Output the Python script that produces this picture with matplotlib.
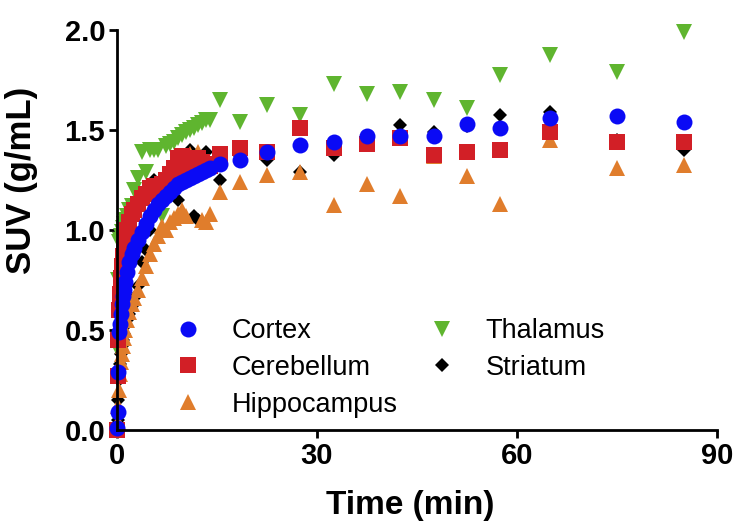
import matplotlib
matplotlib.use("Agg")
import matplotlib.pyplot as plt

plt.rcParams['font.family'] = ['Liberation Sans', 'DejaVu Sans']

# Frame mid-times (min)
time_min = [0.0, 0.1, 0.2, 0.3, 0.4, 0.55, 0.7, 0.85, 1.0, 1.25, 1.5, 1.8, 2.2, 2.6,
            3.2, 3.8, 4.4, 5.0, 5.6, 6.2, 6.8, 7.4, 8.0, 8.6, 9.2, 9.8, 10.4, 11.0,
            11.6, 12.2, 12.8, 13.4, 14.0,
            15.4, 18.4, 22.5, 27.5, 32.5, 37.5, 42.5, 47.5, 52.5, 57.5, 65, 75, 85]

cortex = [0.01, 0.09, 0.29, 0.49, 0.53, 0.58, 0.63, 0.67, 0.70, 0.74, 0.79, 0.84, 0.88, 0.91,
          0.95, 0.99, 1.03, 1.07, 1.10, 1.13, 1.15, 1.17, 1.19, 1.21, 1.23, 1.24, 1.25, 1.26,
          1.27, 1.28, 1.29, 1.30, 1.31,
          1.33, 1.35, 1.39, 1.425, 1.44, 1.47, 1.47, 1.47, 1.53, 1.51, 1.56, 1.57, 1.54]

cerebellum = [0.0, 0.27, 0.45, 0.60, 0.68, 0.76, 0.82, 0.87, 0.91, 0.96, 1.00, 1.04, 1.08, 1.10,
              1.13, 1.16, 1.18, 1.21, 1.22, 1.20, 1.23, 1.25, 1.28, 1.31, 1.36, 1.37, 1.33, 1.30,
              1.35, 1.36, 1.34, 1.33, 1.32,
              1.38, 1.41, 1.39, 1.51, 1.41, 1.43, 1.46, 1.375, 1.39, 1.40, 1.49, 1.44, 1.44]

hippocampus = [0.0, 0.04, 0.12, 0.20, 0.28, 0.34, 0.38, 0.42, 0.46, 0.50, 0.55, 0.59, 0.63, 0.66,
               0.70, 0.76, 0.82, 0.88, 0.93, 0.97, 1.02, 1.00, 1.04, 1.06, 1.08, 1.10, 1.07, 1.38,
               1.36, 1.39, 1.05, 1.04, 1.08,
               1.19, 1.24, 1.275, 1.29, 1.125, 1.23, 1.17, 1.37, 1.27, 1.13, 1.45, 1.31, 1.325]

thalamus = [0.0, 0.40, 0.75, 0.94, 0.95, 0.97, 0.99, 1.01, 1.03, 1.05, 1.07, 1.10, 1.12, 1.20,
            1.26, 1.39, 1.29, 1.40, 1.40, 1.40, 1.07, 1.42, 1.43, 1.44, 1.46, 1.475, 1.49, 1.50,
            1.51, 1.525, 1.535, 1.55, 1.55,
            1.65, 1.54, 1.625, 1.575, 1.73, 1.68, 1.69, 1.65, 1.61, 1.775, 1.875, 1.79, 1.99]

striatum = [0.0, 0.05, 0.15, 0.25, 0.33, 0.38, 0.42, 0.45, 0.48, 0.52, 0.55, 0.58, 0.62, 0.66,
            0.72, 0.84, 0.90, 1.00, 1.25, 1.15, 1.20, 1.26, 1.24, 1.20, 1.15, 1.30, 1.37, 1.40,
            1.07, 1.05, 1.35, 1.39, 1.30,
            1.25, 1.37, 1.35, 1.29, 1.375, 1.46, 1.525, 1.49, 1.52, 1.575, 1.59, 1.45, 1.40]

labels = ['Cortex', 'Cerebellum', 'Hippocampus', 'Thalamus', 'Striatum']
x_ticks = [0, 30, 60, 90]
y_ticks = [0.0, 0.5, 1.0, 1.5, 2.0]

C_BLUE = '#0a0af5'
C_RED = '#d21f26'
C_ORANGE = '#e07d2c'
C_GREEN = '#5fb52f'
C_BLACK = '#000000'

W, H = 736, 525
fig = plt.figure(figsize=(W / 100, H / 100), dpi=100)
ax = fig.add_axes([117 / W, (H - 430) / H, 600 / W, 400 / H])

style = dict(linestyle='none', markeredgewidth=0, clip_on=False)
series = {
    'Thalamus': (thalamus, 'v', 11.5, C_GREEN),
    'Striatum': (striatum, 'D', 6.8, C_BLACK),
    'Hippocampus': (hippocampus, '^', 11.5, C_ORANGE),
    'Cerebellum': (cerebellum, 's', 11.5, C_RED),
    'Cortex': (cortex, 'o', 11.5, C_BLUE),
}
handles = {}
for name, (vals, mk, ms, col) in series.items():
    h, = ax.plot(time_min, vals, marker=mk, markersize=ms, color=col, **style)
    handles[name] = h

ax.set_xlim(0, 90)
ax.set_ylim(0, 2.0)
ax.set_xticks(x_ticks)
ax.set_xticklabels([str(v) for v in x_ticks])
ax.set_yticks(y_ticks)
ax.set_yticklabels([f'{v:.1f}' for v in y_ticks])

for s in ['top', 'right']:
    ax.spines[s].set_visible(False)
for s in ['left', 'bottom']:
    ax.spines[s].set_linewidth(2.0)
ax.tick_params(axis='both', direction='out', length=5.5, width=2.0, labelsize=21, pad=3)
for lab in ax.get_xticklabels() + ax.get_yticklabels():
    lab.set_fontweight('bold')

ax.set_xlabel('Time (min)', fontsize=24, fontweight='bold')
ax.set_ylabel('SUV (g/mL)', fontsize=25, fontweight='bold')
ax.xaxis.set_label_coords(0.488, (430 - 490) / 400)
ax.yaxis.set_label_coords((38 - 117) / 600, 0.625)

leg = ax.legend([handles[n] for n in labels], labels, ncol=2, frameon=False,
                fontsize=19.5, loc='upper left',
                bbox_to_anchor=(161 / W, 1 - 318 / H), bbox_transform=fig.transFigure,
                borderpad=0, borderaxespad=0, handlelength=2.0, handletextpad=0.62,
                columnspacing=0.62, labelspacing=0.4)

fig.savefig('out.png', dpi=100)
